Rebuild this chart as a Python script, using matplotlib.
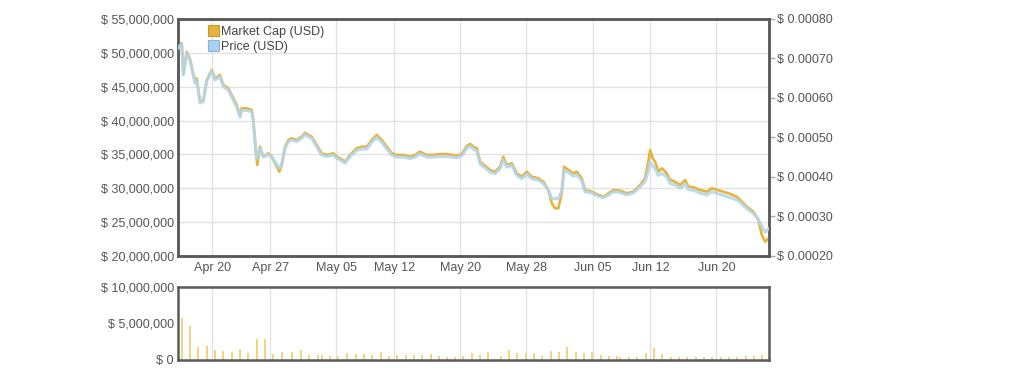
import matplotlib
matplotlib.use("Agg")
import matplotlib.pyplot as plt
import matplotlib.dates as mdates
from matplotlib.patches import Patch
from matplotlib.ticker import FuncFormatter
import pandas as pd

plt.rcParams['font.family'] = ['Liberation Sans', 'DejaVu Sans']

# 기준 시각 (day offsets are counted from here)
base = pd.Timestamp('2014-04-15 20:00')

# market cap line (days from base, USD millions)
cap_day = [0.06, 0.24, 0.45, 0.64, 1.05, 1.45, 2.06, 2.26, 2.66, 3.06, 3.47, 4.08, 4.48, 5.08,
           5.48, 6.09, 6.69, 7.10, 7.50, 7.71, 8.32, 8.92, 9.11, 9.44, 9.60, 9.92, 10.32, 10.93,
           11.34, 11.95, 12.26, 12.55, 12.95, 13.35, 13.76, 14.37, 14.97, 15.37, 15.77, 16.18,
           16.79, 17.39, 18.00, 18.80, 19.21, 19.61, 20.21, 20.82, 21.63, 22.23, 22.84, 23.44,
           24.05, 24.66, 25.26, 25.87, 26.47, 27.27, 28.08, 28.69, 29.29, 30.10, 30.90, 31.71,
           32.52, 33.73, 34.34, 34.95, 35.35, 35.75, 36.16, 36.55, 37.76, 38.37, 38.97, 39.37,
           39.79, 40.39, 41.00, 41.60, 42.21, 42.81, 43.61, 44.22, 44.82, 45.23, 45.63, 46.03,
           46.44, 46.72, 47.24, 47.85, 48.26, 48.86, 49.26, 50.07, 50.87, 51.48, 52.08, 52.69,
           53.50, 54.31, 55.11, 55.92, 56.52, 56.92, 57.13, 57.45, 57.73, 58.13, 58.55, 59.15,
           59.55, 60.15, 60.76, 61.37, 61.77, 62.37, 63.18, 63.99, 64.60, 65.60, 66.61, 67.62,
           68.23, 68.83, 69.63, 70.24, 70.65, 71.05, 71.45]
cap_musd = [50.86, 51.31, 51.41, 46.88, 50.13, 49.09, 45.74, 46.24, 42.79, 43.04, 45.99, 47.47,
            46.24, 46.73, 45.25, 44.77, 43.29, 42.30, 40.82, 41.81, 41.81, 41.56, 40.08, 35.17,
            33.44, 36.14, 34.66, 35.17, 34.66, 33.19, 32.45, 33.44, 36.14, 37.13, 37.38, 37.13,
            37.62, 38.21, 37.87, 37.62, 36.39, 35.17, 34.92, 35.17, 34.66, 34.43, 33.93, 34.92,
            35.91, 36.14, 36.14, 37.13, 37.87, 37.13, 36.14, 35.17, 34.92, 34.92, 34.66, 34.92,
            35.40, 34.92, 34.92, 35.06, 35.06, 34.81, 35.06, 36.24, 36.54, 36.14, 35.91, 33.93,
            32.70, 32.45, 33.19, 34.66, 33.44, 33.69, 32.21, 31.71, 32.45, 31.71, 31.47, 30.97,
            29.75, 27.78, 27.04, 27.04, 29.26, 33.19, 32.70, 32.21, 32.45, 31.47, 29.75, 29.50,
            29.01, 28.76, 29.26, 29.75, 29.64, 29.26, 29.50, 30.48, 31.47, 33.93, 35.65, 34.43,
            33.93, 32.45, 32.95, 32.21, 31.22, 30.97, 30.48, 31.22, 30.23, 30.15, 29.75, 29.50,
            30.00, 29.64, 29.26, 28.76, 28.02, 27.28, 26.54, 25.32, 23.10, 22.11, 22.61]

# price line (same times, units of 1e-4 USD)
price_e4 = [7.263, 7.331, 7.349, 6.577, 7.126, 6.954, 6.371, 6.457, 5.874, 5.909, 6.423, 6.680,
            6.457, 6.543, 6.286, 6.200, 5.943, 5.771, 5.514, 5.686, 5.686, 5.651, 5.394, 4.606,
            4.469, 4.726, 4.503, 4.571, 4.503, 4.314, 4.229, 4.331, 4.726, 4.897, 4.931, 4.897,
            4.983, 5.086, 5.017, 4.983, 4.760, 4.554, 4.520, 4.554, 4.469, 4.434, 4.349, 4.520,
            4.674, 4.709, 4.709, 4.880, 5.000, 4.880, 4.709, 4.554, 4.503, 4.503, 4.469, 4.503,
            4.589, 4.503, 4.503, 4.520, 4.520, 4.486, 4.537, 4.726, 4.777, 4.709, 4.657, 4.331,
            4.126, 4.091, 4.211, 4.434, 4.246, 4.297, 4.040, 3.954, 4.074, 3.954, 3.920, 3.834,
            3.663, 3.457, 3.457, 3.457, 3.646, 4.177, 4.109, 4.023, 4.057, 3.903, 3.629, 3.594,
            3.509, 3.474, 3.543, 3.629, 3.611, 3.543, 3.594, 3.749, 3.886, 4.160, 4.383, 4.280,
            4.211, 4.040, 4.091, 4.006, 3.834, 3.800, 3.714, 3.817, 3.680, 3.663, 3.594, 3.543,
            3.629, 3.560, 3.491, 3.423, 3.320, 3.200, 3.080, 2.926, 2.754, 2.600, 2.686]

# volume bars (days from base, USD millions)
vol_day = [0.0, 0.45, 1.45, 2.42, 3.51, 4.48, 5.45, 6.54, 7.50, 8.47, 9.56, 10.53, 11.50, 12.59,
           13.80, 14.89, 15.86, 16.95, 17.43, 18.40, 19.37, 20.45, 21.54, 22.51, 23.48, 24.57,
           25.54, 26.51, 27.60, 28.56, 29.53, 30.62, 31.59, 32.56, 33.53, 34.50, 35.58, 36.55,
           37.52, 39.10, 40.06, 41.03, 42.12, 43.09, 44.06, 45.15, 46.11, 47.08, 48.17, 49.14,
           50.11, 51.20, 52.17, 53.14, 53.50, 54.59, 55.56, 56.65, 57.61, 58.58, 59.67, 60.64,
           61.61, 62.70, 63.67, 64.63, 65.72, 66.69, 67.66, 68.75, 69.72, 70.69]
vol_musd = [3.0, 5.7, 4.6, 1.8, 1.9, 1.4, 1.2, 1.1, 1.5, 0.9, 2.9, 2.9, 0.8, 1.1,
            1.1, 1.3, 0.7, 0.7, 0.7, 0.6, 0.6, 0.9, 0.8, 0.8, 0.7, 1.1,
            0.6, 0.7, 0.7, 0.7, 0.7, 0.8, 0.6, 0.4, 0.4, 0.5, 0.9, 0.7,
            1.1, 0.6, 1.3, 0.9, 0.9, 1.0, 0.5, 1.2, 1.1, 1.8, 1.1, 1.0,
            1.1, 0.7, 0.6, 0.5, 0.4, 0.4, 0.4, 0.9, 1.6, 0.8, 0.4, 0.4,
            0.4, 0.4, 0.4, 0.4, 0.4, 0.4, 0.4, 0.6, 0.5, 0.7]

tick_dates = ['2014-04-20', '2014-04-27', '2014-05-05', '2014-05-12', '2014-05-20',
              '2014-05-28', '2014-06-05', '2014-06-12', '2014-06-20']

gold = '#e6b43c'
blue = '#b4d6ea'
txt = '#555555'
frame = '#5a5a5a'
grid = '#e2e2e2'

cap_t = base + pd.to_timedelta(cap_day, unit='D')
vol_t = base + pd.to_timedelta(vol_day, unit='D')
cap_usd = [v * 1e6 for v in cap_musd]
price_usd = [v * 1e-4 for v in price_e4]
vol_usd = [v * 1e6 for v in vol_musd]
x0 = base
x1 = base + pd.Timedelta(days=71.53)

fig = plt.figure(figsize=(10.15, 3.73), dpi=100)
ax = fig.add_axes([0.1754, 0.3137, 0.5823, 0.6354])
ax2 = ax.twinx()
axv = fig.add_axes([0.1754, 0.0349, 0.5823, 0.1957])

# 위쪽 차트
ax.plot(cap_t, cap_usd, color=gold, lw=1.9, zorder=3, solid_joinstyle='round')
ax2.plot(cap_t, price_usd, color=blue, lw=2.2, alpha=0.9, zorder=3, solid_joinstyle='round')
ax.set_ylim(20e6, 55e6)
ax2.set_ylim(0.0002, 0.0008)
ax.set_yticks([20e6 + 5e6 * i for i in range(8)])
ax2.set_yticks([0.0002 + 0.0001 * i for i in range(7)])
ax.yaxis.set_major_formatter(FuncFormatter(lambda v, p: '$ {:,.0f}'.format(v)))
ax2.yaxis.set_major_formatter(FuncFormatter(lambda v, p: '$ {:.5f}'.format(v)))

for a in (ax, axv):
    a.set_xlim(x0, x1)
    a.set_xticks(pd.to_datetime(tick_dates))
    a.xaxis.set_major_formatter(mdates.DateFormatter('%b %d'))
    a.grid(True, axis='x', color=grid, lw=1)
    a.set_axisbelow(True)
ax.grid(True, axis='y', color=grid, lw=1)

for a in (ax, ax2, axv):
    for s in a.spines.values():
        s.set_color(frame)
        s.set_linewidth(1.8)
    a.tick_params(colors=txt, labelsize=9)

ax.tick_params(axis='y', length=0, pad=3)
ax.tick_params(axis='x', length=0, pad=4)
ax2.tick_params(axis='y', length=4, width=1, color='#aaaaaa', pad=2)

# 범례
handles = [Patch(facecolor=gold, edgecolor='#c89a2a', lw=0.8),
           Patch(facecolor='#a9d2f0', edgecolor='#8cb4d4', lw=0.8)]
ax.legend(handles, ['Market Cap (USD)', 'Price (USD)'], loc='upper left',
          bbox_to_anchor=(0.04, 1.0), frameon=False, fontsize=9, labelcolor='#444444',
          handlelength=0.9, handleheight=0.9, handletextpad=0.15, labelspacing=0.2,
          borderaxespad=0.1)

# 거래량 막대
axv.bar(vol_t, vol_usd, width=0.3, color='#f0d585', zorder=2)
axv.set_ylim(0, 10e6)
axv.set_yticks([0, 5e6, 10e6])
axv.yaxis.set_major_formatter(FuncFormatter(lambda v, p: '$ {:,.0f}'.format(v)))
axv.tick_params(axis='y', length=0, pad=3)
axv.tick_params(axis='x', length=0, labelbottom=False)

fig.savefig('out.png', dpi=100)
